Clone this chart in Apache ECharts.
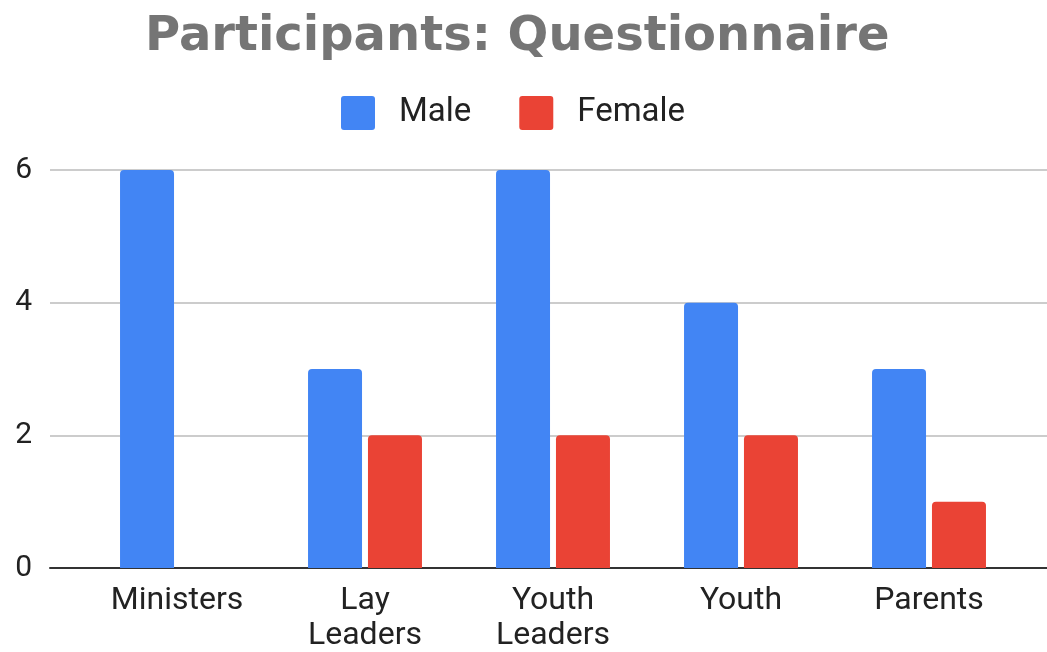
<!DOCTYPE html>
<html>
<head>
<meta charset="utf-8">
<script src="https://cdn.jsdelivr.net/npm/echarts@6/dist/echarts.min.js"></script>
<style>html,body{margin:0;padding:0;background:#fff}#c{width:1047px;height:652px}</style>
</head>
<body>
<div id="c"></div>
<script>
const titleText = 'Participants: Questionnaire';
const categories = ['Ministers', 'Lay\nLeaders', 'Youth\nLeaders', 'Youth', 'Parents'];
const seriesNames = ['Male', 'Female'];
const male = [6, 3, 6, 4, 3];
const female = [0, 2, 2, 2, 1];
const yMin = 0, yMax = 6, yStep = 2;

const legendIcon = 'path://M3,0 H31 A3,3 0 0 1 34,3 V31 A3,3 0 0 1 31,34 H3 A3,3 0 0 1 0,31 V3 A3,3 0 0 1 3,0 Z';

const chart = echarts.init(document.getElementById('c'));
chart.setOption({
  animation: false,
  title: {
    text: titleText, left: 140, top: 9,
    textStyle: { fontFamily: 'DejaVu Sans', fontWeight: 'bold', fontSize: 48, color: '#757575' }
  },
  legend: {
    data: seriesNames, top: 91, left: 336,
    itemWidth: 34, itemHeight: 34, itemGap: 48, icon: legendIcon,
    textStyle: { fontFamily: 'Roboto', fontSize: 33, color: '#222', padding: [0, 0, 0, 19] }
  },
  grid: [
    { left: 50, right: 0, top: 170, bottom: 84, outerBoundsMode: 'none', containLabel: false },
    { left: 83, right: 24, top: 170, bottom: 84, outerBoundsMode: 'none', containLabel: false }
  ],
  xAxis: [
    { gridIndex: 0, type: 'category', data: [''], axisTick: { show: false }, axisLabel: { show: false },
      axisLine: { lineStyle: { color: '#333', width: 2 } } },
    { gridIndex: 1, type: 'category', data: categories, axisTick: { show: false }, axisLine: { show: false },
      axisLabel: { fontFamily: 'Roboto', fontSize: 32, color: '#222', lineHeight: 35, margin: 15, interval: 0 } }
  ],
  yAxis: [
    { gridIndex: 0, type: 'value', min: yMin, max: yMax, interval: yStep,
      axisLabel: { fontFamily: 'Roboto', fontSize: 30, color: '#222', margin: 18 },
      splitLine: { lineStyle: { color: '#cccccc', width: 2 } } },
    { gridIndex: 1, type: 'value', min: yMin, max: yMax, interval: yStep, show: false, splitLine: { show: false } }
  ],
  series: [
    { name: seriesNames[0], type: 'bar', xAxisIndex: 1, yAxisIndex: 1, data: male, barWidth: 54, barGap: '11%',
      itemStyle: { color: '#4285F4', borderRadius: [4, 4, 0, 0] } },
    { name: seriesNames[1], type: 'bar', xAxisIndex: 1, yAxisIndex: 1, data: female, barWidth: 54, barGap: '11%',
      itemStyle: { color: '#EA4335', borderRadius: [4, 4, 0, 0] } }
  ]
});
</script>
</body>
</html>
